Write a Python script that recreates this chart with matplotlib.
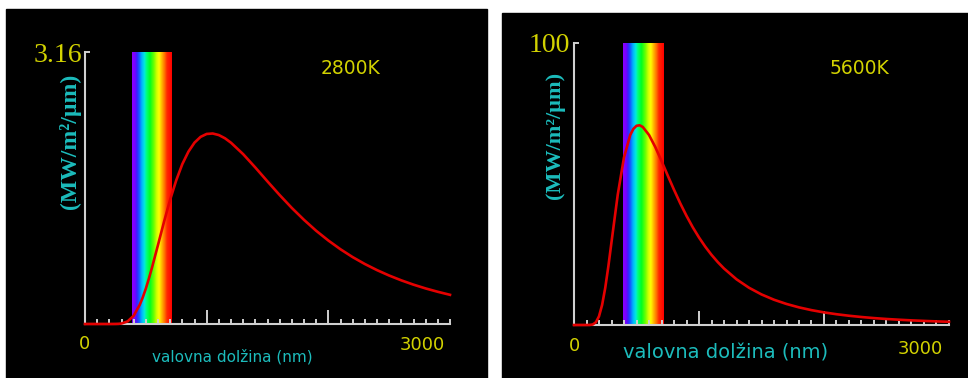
import matplotlib
matplotlib.use("Agg")
import matplotlib.pyplot as plt
import numpy as np
from matplotlib.colors import LinearSegmentedColormap
from matplotlib.patches import Rectangle
from matplotlib.transforms import offset_copy

W, H = 968, 378

# spectral exitance, MW/m^2/um
WAVELENGTH_NM = [0, 100, 125, 150, 175, 200, 225, 250, 275, 300, 350, 400, 450,
                 475, 500, 525, 550, 600, 650, 700, 750, 800, 850, 900, 950,
                 1000, 1050, 1100, 1150, 1200, 1300, 1400, 1500, 1600, 1700,
                 1800, 1900, 2000, 2100, 2200, 2300, 2400, 2500, 2600, 2700,
                 2800, 2900, 3000]
EXITANCE_2800K = [0, 0, 0, 0, 0, 0, 0.0001, 0.0005, 0.0018, 0.0056, 0.030, 0.096,
                  0.223, 0.310, 0.411, 0.527, 0.652, 0.919, 1.190, 1.445, 1.670,
                  1.858, 2.002, 2.107, 2.174, 2.208, 2.213, 2.195, 2.158, 2.106,
                  1.973, 1.818, 1.656, 1.498, 1.348, 1.210, 1.083, 0.970, 0.868,
                  0.777, 0.697, 0.626, 0.563, 0.507, 0.457, 0.413, 0.374, 0.339]
EXITANCE_5600K = [0, 0.0003, 0.015, 0.18, 0.96, 3.08, 7.13, 13.19, 20.84, 29.40,
                  46.23, 59.45, 67.41, 69.55, 70.64, 70.82, 70.23, 67.39, 63.13,
                  58.17, 53.00, 47.96, 43.14, 38.71, 34.66, 31.03, 27.78, 24.88,
                  22.31, 20.03, 16.21, 13.21, 10.84, 8.96, 7.46, 6.25, 5.27, 4.47,
                  3.82, 3.28, 2.83, 2.45, 2.13, 1.87, 1.64, 1.45, 1.28, 1.14]
Y_MAX = [3.16, 100]
Y_MAX_LABELS = ["3.16", "100"]
TEMP_LABELS = ["2800K", "5600K"]
VISIBLE_NM = [390, 718]
X_LABEL = "valovna dolžina (nm)"
Y_LABEL = "(MW/m²/µm)"

YELLOW = "#d2d200"
CYAN = "#1cbcbc"
RED = "#e40000"
AXIS = "#d0d0d0"

rainbow = LinearSegmentedColormap.from_list("visible", [
    (0.00, "#8a00ff"), (0.07, "#7a00ff"), (0.12, "#3a20ff"), (0.18, "#1060ff"),
    (0.24, "#00b0ff"), (0.31, "#00e8e0"), (0.36, "#00ff80"), (0.45, "#00ff20"),
    (0.55, "#70ff00"), (0.62, "#d0ff00"), (0.68, "#ffff00"), (0.74, "#ffc000"),
    (0.82, "#ff7000"), (0.88, "#ff2800"), (1.00, "#ff0000")])


def px_rect(x0, y0, x1, y1):
    return [x0 / W, 1 - y1 / H, (x1 - x0) / W, (y1 - y0) / H]


def draw_panel(ax, values, ymax, ymax_label, offs):
    grad = np.linspace(0, 1, 200).reshape(1, -1)
    ax.imshow(grad, extent=[VISIBLE_NM[0], VISIBLE_NM[1], 0, ymax],
              aspect="auto", cmap=rainbow, zorder=0.5, interpolation="bilinear")
    ax.plot(WAVELENGTH_NM, values, color=RED, lw=1.9, zorder=3, clip_on=False,
            solid_joinstyle="round")
    ax.set_xlim(0, 3000)
    ax.set_ylim(0, ymax)
    ax.patch.set_visible(False)

    for side in ("top", "right"):
        ax.spines[side].set_visible(False)
    for side in ("left", "bottom"):
        ax.spines[side].set_color(AXIS)
        ax.spines[side].set_linewidth(1.5)

    ax.set_xticks([1000, 2000])
    ax.set_xticks(np.arange(0, 3001, 100), minor=True)
    ax.set_yticks([ymax])
    ax.tick_params(axis="x", which="major", direction="in", length=10,
                   width=1.4, color=AXIS, labelbottom=False)
    ax.tick_params(axis="x", which="minor", direction="in", length=3.5,
                   width=1.4, color=AXIS)
    ax.tick_params(axis="y", which="major", direction="in", length=3.5,
                   width=1.4, color=AXIS, labelleft=False)

    dx, dy, y0, y3, x3 = offs
    ax.text(0, ymax, ymax_label, ha="right", va="center",
            family="Liberation Serif", size=20, color=YELLOW,
            transform=offset_copy(ax.transData, fig, x=dx, y=dy, units="dots"))
    ax.text(0, 0, "0", ha="center", va="center", size=13, color=YELLOW,
            transform=offset_copy(ax.transData, fig, x=0, y=y0, units="dots"))
    ax.text(3000, 0, "3000", ha="right", va="center", size=13, color=YELLOW,
            transform=offset_copy(ax.transData, fig, x=x3, y=y3, units="dots"))


fig = plt.figure(figsize=(W / 100, H / 100), dpi=100, facecolor="white")

# black backgrounds of the two panels
fig.patches.append(Rectangle((6 / W, 0), (487 - 6) / W, 1 - 9 / H,
                             transform=fig.transFigure, color="black", zorder=-1))
fig.patches.append(Rectangle((502 / W, 0), (968 - 502) / W, 1 - 13 / H,
                             transform=fig.transFigure, color="black", zorder=-1))

ax1 = fig.add_axes(px_rect(85, 52, 450, 324))
ax2 = fig.add_axes(px_rect(574, 43, 949, 325))

draw_panel(ax1, EXITANCE_2800K, Y_MAX[0], Y_MAX_LABELS[0], (-3, -4, -20, -21, -5))
draw_panel(ax2, EXITANCE_5600K, Y_MAX[1], Y_MAX_LABELS[1], (-4, -3, -21, -24, -6))

fig.text(350 / W, 1 - 68 / H, TEMP_LABELS[0], ha="center", va="center",
         size=13.5, color=YELLOW)
fig.text(859 / W, 1 - 69 / H, TEMP_LABELS[1], ha="center", va="center",
         size=13.5, color=YELLOW)

fig.text(232 / W, 1 - 357 / H, X_LABEL, ha="center", va="center",
         size=11, color=CYAN)
fig.text(726 / W, 1 - 353 / H, X_LABEL, ha="center", va="center",
         size=14, color=CYAN)

fig.text(70 / W, 1 - 141 / H, Y_LABEL, ha="center", va="center", rotation=90,
         family="Liberation Serif", weight="bold", size=17, color=CYAN)
fig.text(555 / W, 1 - 135 / H, Y_LABEL, ha="center", va="center", rotation=90,
         family="Liberation Serif", weight="bold", size=16, color=CYAN)

fig.savefig("out.png", dpi=100, facecolor="white")
